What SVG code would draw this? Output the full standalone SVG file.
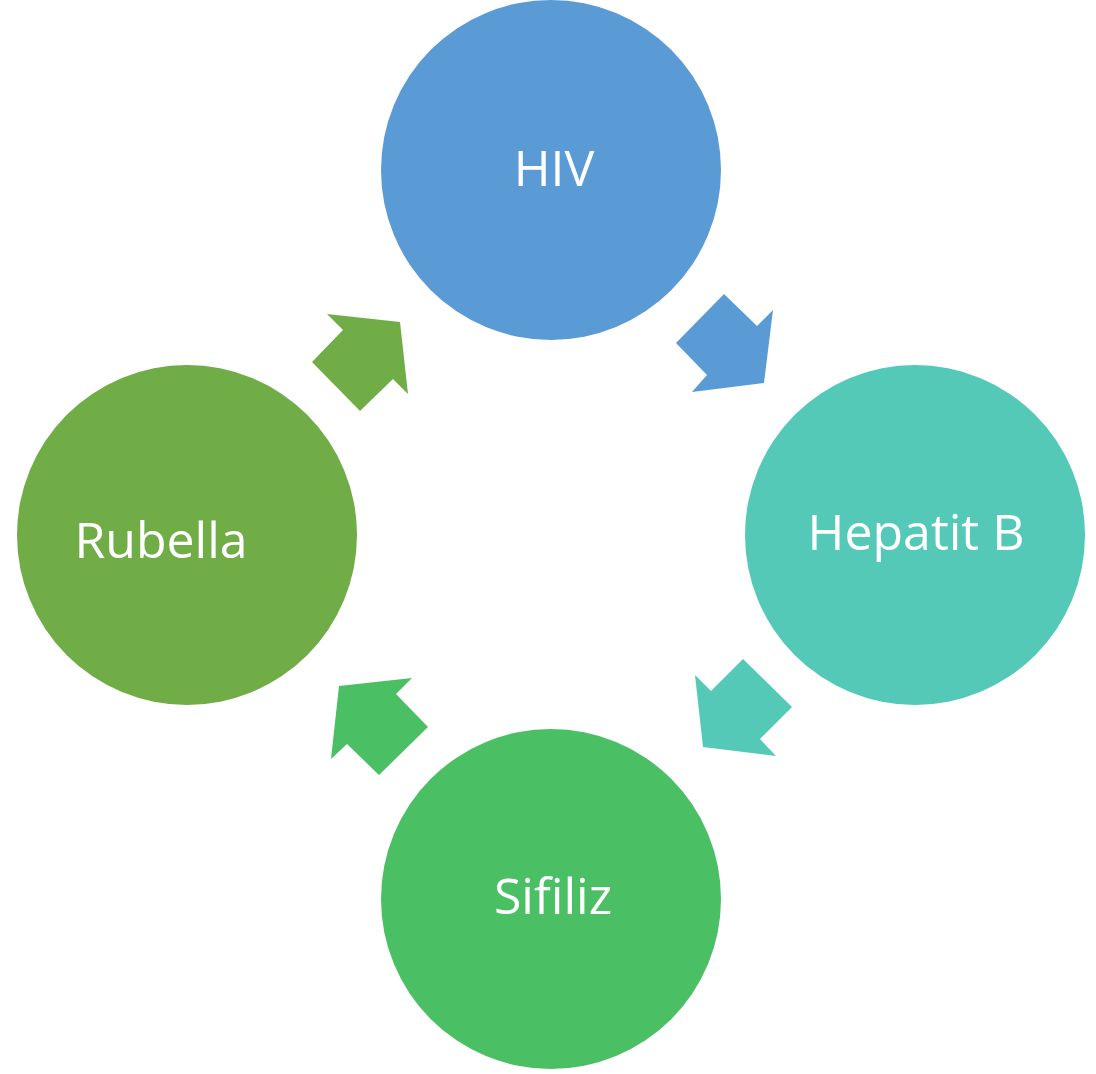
<svg xmlns="http://www.w3.org/2000/svg" width="1096" height="1074" viewBox="0 0 1096 1074">
<style>
.lbl{font-family:"Open Sans","Noto Sans",sans-serif;font-size:50px;fill:#fff;text-anchor:middle}
</style>
<rect width="1096" height="1074" fill="#fff"/>
<g id="connectors">
<polygon fill="#5B9BD5" points="724,294 757,326 773,310 764,383 692,392 707,375 676,343"/>
<polygon fill="#54C9B7" points="743,659 792,707 760,739 776,756 703,747 695,675 711,691"/>
<polygon fill="#4ABF64" points="412,678 339,686 331,759 347,744 379,775 428,727 396,694"/>
<polygon fill="#70AD47" points="327,314 400,322 408,394 393,379 360,411 312,362 343,330"/>
</g>
<g id="hiv"><circle cx="551" cy="170" r="170" fill="#5B9BD5"/><text class="lbl" x="554" y="186">HIV</text></g>
<g id="hepatit"><circle cx="915" cy="535" r="170" fill="#54C9B7"/><text class="lbl" x="916" y="550">Hepatit B</text></g>
<g id="sifiliz"><circle cx="551" cy="899" r="170" fill="#4ABF64"/><text class="lbl" x="553" y="914">Sifiliz</text></g>
<g id="rubella"><circle cx="187" cy="535" r="170" fill="#70AD47"/><text class="lbl" x="161" y="558">Rubella</text></g>
</svg>
